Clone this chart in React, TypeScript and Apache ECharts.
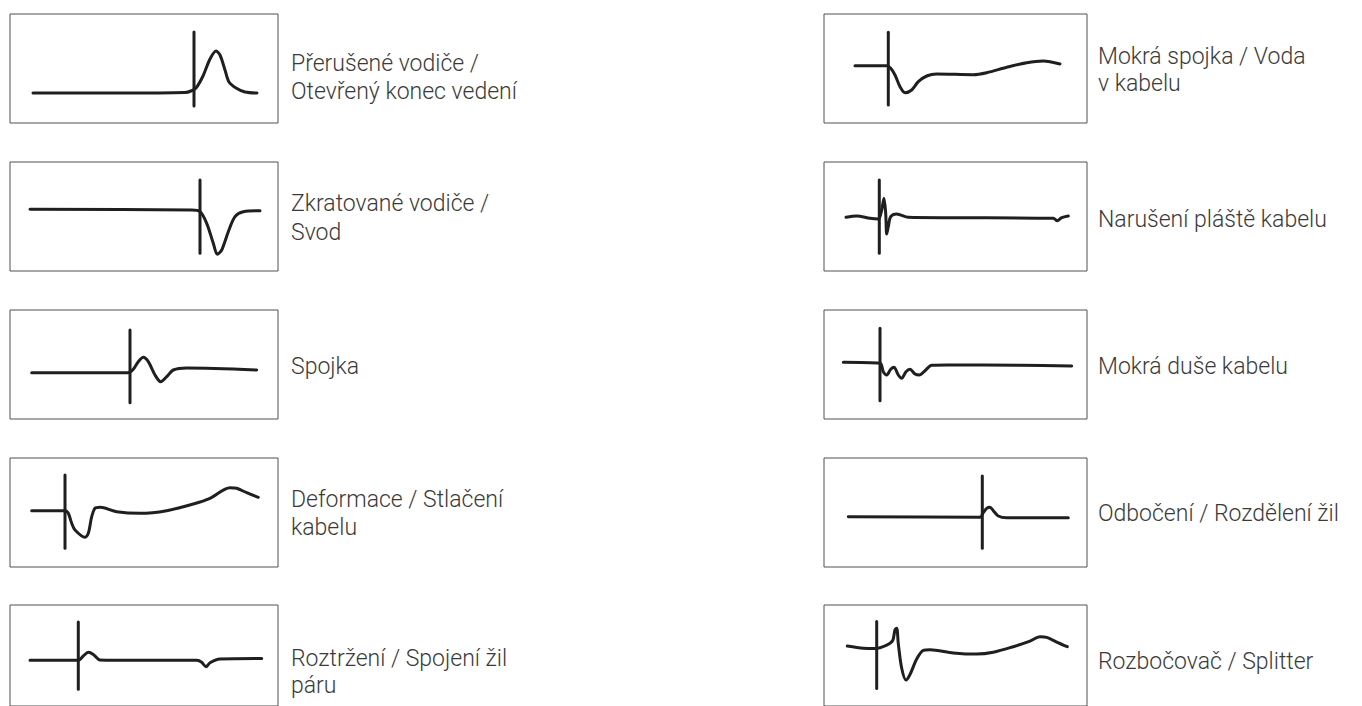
import React, { useEffect, useRef } from "react";
import * as echarts from "echarts";

const openEndTrace = [[23,79],[110,79],[175,78.5],[181,77],[186,74],[193,62],[200,45],[206,37],[210,41],[215,56],[219,68],[226,74],[235,78],[247,79]];
const openEndMarker = [[184,18],[184,92]];

const shortTrace = [[20,47.3],[181.7,48],[190,49.7],[196.7,61.3],[203.3,81.3],[207.3,92.3],[211.7,88],[218.3,69.7],[225,54.7],[233.3,49.7],[250,48.7]];
const shortMarker = [[190,18],[190,91.3]];

const spliceTrace = [[21.7,62.7],[118.3,62.7],[123.3,59.3],[128.3,51.7],[133.3,47.3],[138.3,51.7],[145,65],[150.7,71.7],[156.7,66.7],[163.3,60],[176.7,58],[246.7,60]];
const spliceMarker = [[120,20],[120,92.7]];

const crushTrace = [[21.7,52.7],[55,52.7],[58.3,55.3],[61.7,65.3],[65,72],[75,79.3],[78.3,75.3],[81.7,58.7],[85,50.3],[90,49.3],[106.7,53.7],[130,55.3],[156.7,52.7],[183.3,46],[200,40.3],[220,29.7],[226.7,30.3],[236.7,34.7],[248.3,39.3]];
const crushMarker = [[55,17],[55,90.3]];

const splitPairTrace = [[20,59.7],[68.3,59.7],[73.3,55],[78.3,51],[83.3,53.3],[90,59.3],[123.3,59.7],[186.7,59.7],[191.7,61.7],[196,66.7],[200,62.3],[210,58.3],[251.7,57.7]];
const splitPairMarker = [[68.3,18.3],[68.3,91]];

const wetSpliceTrace = [[31,51.7],[62.7,51.7],[66.7,54.3],[71,61],[76,72.7],[81,78.7],[87.7,76],[94.3,67.7],[102.7,62],[112.7,60],[149.3,60.7],[162.7,58.7],[182.7,53.3],[202.7,48.7],[219.3,47],[236,50]];
const wetSpliceMarker = [[64.3,18.3],[64.3,91]];

const sheathTrace = [[22,55.3],[32.7,54],[46,56.3],[54.3,57],[57.7,48],[60,36.3],[61.7,51.3],[62.7,72],[64.3,64.7],[66.7,54.7],[72.7,52],[84.3,55.3],[129.3,55.7],[229.3,56.3],[233.3,58.7],[237.7,55.7],[244.3,54]];
const sheathMarker = [[55.3,18],[55.3,91.3]];

const wetCoreTrace = [[19.3,52.3],[56,53.3],[59.3,61.7],[62.7,65],[66.7,59.3],[70,57.3],[74.3,65],[77.7,68.3],[82,61.7],[86,59.3],[91,64],[95.3,65],[101,60.7],[107.7,55.3],[122.7,55],[196,55.3],[247.7,56]];
const wetCoreMarker = [[56,18.3],[56,90.7]];

const bridgeTapTrace = [[24.3,58.7],[156,59.3],[159.3,54.7],[162.7,50.3],[166,49.3],[169.3,52.7],[174.3,58],[182.7,59.7],[244.3,59.7]];
const bridgeTapMarker = [[158.3,18],[158.3,90.3]];

const splitterTrace = [[23.3,44.3],[39.3,46.7],[51,47],[62.7,43.3],[68.7,38.3],[71,26.7],[72.7,25],[74.3,41.7],[77.7,68.3],[82,81],[86,75],[92.7,58.3],[99.3,49],[106,48.3],[129.3,51.7],[152.7,53],[169.3,51],[189.3,45],[206,39],[216,34.3],[222.7,35],[232.7,40],[243.3,45]];
const splitterMarker = [[52.7,17.7],[52.7,90]];

const labelsLeft = [
  ["Přerušené vodiče /", "Otevřený konec vedení"],
  ["Zkratované vodiče /", "Svod"],
  ["Spojka"],
  ["Deformace / Stlačení", "kabelu"],
  ["Roztržení / Spojení žil", "páru"],
];
const labelsRight = [
  ["Mokrá spojka / Voda", "v kabelu"],
  ["Narušení pláště kabelu"],
  ["Mokrá duše kabelu"],
  ["Odbočení / Rozdělení žil"],
  ["Rozbočovač / Splitter"],
];

const tracesLeft = [openEndTrace, shortTrace, spliceTrace, crushTrace, splitPairTrace];
const markersLeft = [openEndMarker, shortMarker, spliceMarker, crushMarker, splitPairMarker];
const tracesRight = [wetSpliceTrace, sheathTrace, wetCoreTrace, bridgeTapTrace, splitterTrace];
const markersRight = [wetSpliceMarker, sheathMarker, wetCoreMarker, bridgeTapMarker, splitterMarker];

// layout
const BOX_TOPS = [14, 162, 310, 458, 605];
const BOX_H = 109;
const COLS = [
  { left: 10, width: 268, textX: 291 },
  { left: 824, width: 263, textX: 1098 },
];
// cap-centre y of each label line
const labelYLeft = [[63.7, 91.3], [203.7, 232], [366], [499.3, 527], [658, 685.3]];
const labelYRight = [[56, 83], [219.3], [366], [513.7], [661]];

export default function App() {
  const ref = useRef<HTMLDivElement>(null);
  useEffect(() => {
    if (!ref.current) return;
    const chart = echarts.init(ref.current, undefined, { renderer: "svg" });
    const grid: any[] = [];
    const xAxis: any[] = [];
    const yAxis: any[] = [];
    const series: any[] = [];
    const graphic: any[] = [];
    const lineColor = "#1f1f1f";
    const add = (col: number, row: number, trace: number[][], marker: number[][], label: string[], ys: number[]) => {
      const c = COLS[col];
      const idx = grid.length;
      grid.push({
        left: c.left, top: BOX_TOPS[row], width: c.width, height: BOX_H,
        show: true, borderColor: "#505050", borderWidth: 1, backgroundColor: "transparent",
      });
      xAxis.push({ type: "value", gridIndex: idx, min: 0, max: c.width, show: false });
      yAxis.push({ type: "value", gridIndex: idx, min: 0, max: BOX_H, inverse: true, show: false });
      series.push({
        type: "line", xAxisIndex: idx, yAxisIndex: idx, data: trace, smooth: 0.3,
        showSymbol: false, symbol: "none", silent: true,
        lineStyle: { color: lineColor, width: 3, cap: "round", join: "round" },
      });
      series.push({
        type: "line", xAxisIndex: idx, yAxisIndex: idx, data: marker,
        showSymbol: false, symbol: "none", silent: true,
        lineStyle: { color: lineColor, width: 3, cap: "round" },
      });
      label.forEach((t, i) => {
        graphic.push({
          type: "text", x: c.textX, y: ys[i],
          style: {
            text: t, fontSize: 23, fontFamily: "Roboto", fontWeight: 300,
            fill: "#3a3a3a", verticalAlign: "middle", align: "left",
          },
        });
      });
    };
    for (let r = 0; r < 5; r++) {
      add(0, r, tracesLeft[r], markersLeft[r], labelsLeft[r], labelYLeft[r]);
      add(1, r, tracesRight[r], markersRight[r], labelsRight[r], labelYRight[r]);
    }
    chart.setOption({
      animation: false,
      backgroundColor: "#ffffff",
      grid, xAxis, yAxis, series, graphic,
    });
    return () => chart.dispose();
  }, []);
  return (
    <div
      ref={ref}
      style={{ position: "fixed", left: 0, top: 0, width: 1362, height: 706 }}
    />
  );
}
